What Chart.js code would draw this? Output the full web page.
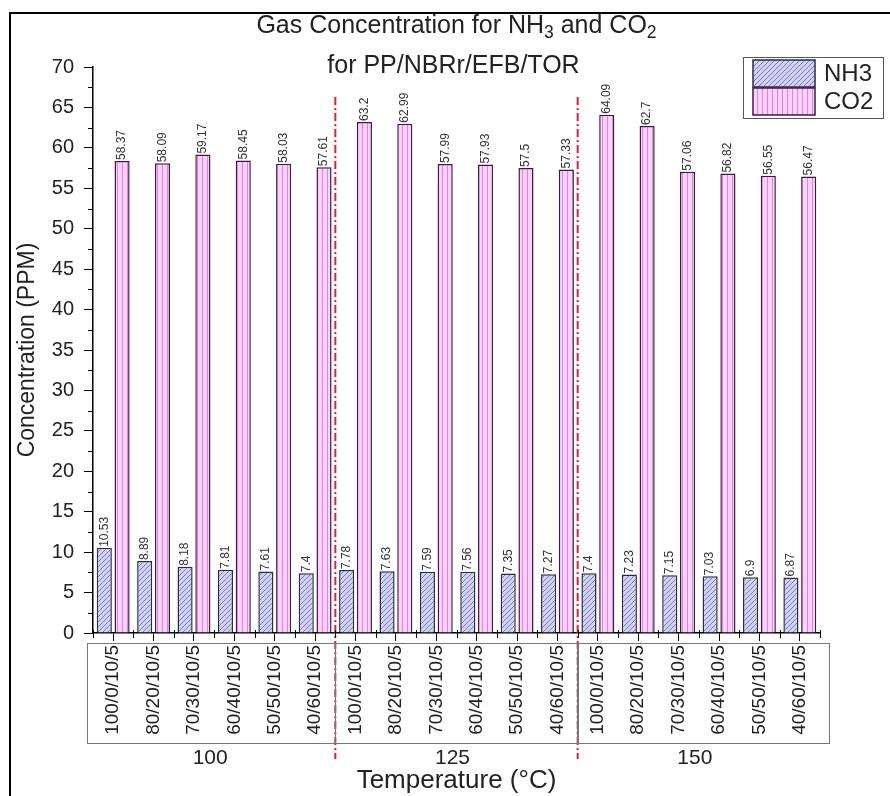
<!DOCTYPE html>
<html>
<head>
<meta charset="utf-8">
<script src="https://cdn.jsdelivr.net/npm/chart.js@4.4.1/dist/chart.umd.min.js"></script>
<style>
  html, body { margin: 0; padding: 0; background: #fff; }
  canvas { display: block; }
</style>
</head>
<body>
<canvas id="myChart" width="890" height="796"></canvas>
<script>
// blend ratios (PP/NBRr/EFB/TOR) for each temperature group
const blends = ['100/0/10/5', '80/20/10/5', '70/30/10/5', '60/40/10/5', '50/50/10/5', '40/60/10/5'];
const temperatures = ['100', '125', '150'];
const categories = [].concat(blends, blends, blends);

const nh3 = [10.53, 8.89, 8.18, 7.81, 7.61, 7.4, 7.78, 7.63, 7.59, 7.56, 7.35, 7.27, 7.4, 7.23, 7.15, 7.03, 6.9, 6.87];
const co2 = [58.37, 58.09, 59.17, 58.45, 58.03, 57.61, 63.2, 62.99, 57.99, 57.93, 57.5, 57.33, 64.09, 62.7, 57.06, 56.82, 56.55, 56.47];

const yTicks = [0, 70, 5];

const FONT = 'Liberation Sans, Arial, sans-serif';

// hatch fills
function makePattern(base, line, kind) {
    const c = document.createElement('canvas');
    const s = 5;
    c.width = s; c.height = s;
    const g = c.getContext('2d');
    g.fillStyle = base;
    g.fillRect(0, 0, s, s);
    g.strokeStyle = line;
    g.lineWidth = 1;
    g.beginPath();
    if (kind === 'diag') {
        g.moveTo(-1, s + 1); g.lineTo(s + 1, -1);
        g.moveTo(-1, 1); g.lineTo(1, -1);
        g.moveTo(s - 1, s + 1); g.lineTo(s + 1, s - 1);
    } else {
        g.moveTo(2.5, 0); g.lineTo(2.5, s);
    }
    g.stroke();
    return g.createPattern(c, 'repeat');
}
const nh3Fill = makePattern('#d2d2f8', '#7a7ac2', 'diag');
const co2Fill = makePattern('#fbd0fb', '#d888d8', 'vert');

// rich text with subscripts
function drawRich(ctx, parts, cx, cy, size) {
    let w = 0;
    parts.forEach(p => {
        ctx.font = (p.sub ? size * 0.7 : size) + 'px ' + FONT;
        w += ctx.measureText(p.t).width;
    });
    let x = cx - w / 2;
    parts.forEach(p => {
        ctx.font = (p.sub ? size * 0.7 : size) + 'px ' + FONT;
        ctx.fillText(p.t, x, p.sub ? cy + size * 0.3 : cy);
        x += ctx.measureText(p.t).width;
    });
}

const overlay = {
    id: 'overlay',
    beforeDraw(chart) {
        const ctx = chart.ctx;
        ctx.save();
        ctx.fillStyle = '#fff';
        ctx.fillRect(0, 0, chart.width, chart.height);
        ctx.strokeStyle = '#000';
        ctx.lineWidth = 2;
        ctx.beginPath();
        ctx.moveTo(10, chart.height);
        ctx.lineTo(10, 13);
        ctx.lineTo(chart.width, 13);
        ctx.stroke();
        ctx.restore();
    },
    afterDatasetsDraw(chart) {
        const ctx = chart.ctx;
        const x = chart.scales.x, y = chart.scales.y;
        ctx.save();
        // value labels above bars
        ctx.fillStyle = '#333';
        ctx.font = '12px ' + FONT;
        ctx.textAlign = 'left';
        ctx.textBaseline = 'middle';
        chart.data.datasets.forEach((ds, i) => {
            chart.getDatasetMeta(i).data.forEach((bar, j) => {
                ctx.save();
                ctx.translate(bar.x, bar.y - 1);
                ctx.rotate(-Math.PI / 2);
                ctx.fillText(String(ds.data[j]), 0, 0);
                ctx.restore();
            });
        });
        // red dash-dot separators between temperature groups
        ctx.strokeStyle = '#e0202a';
        ctx.lineWidth = 2;
        ctx.setLineDash([8, 3, 2, 3]);
        for (let g = 1; g < temperatures.length; g++) {
            const bx = (x.getPixelForValue(g * blends.length - 1) + x.getPixelForValue(g * blends.length)) / 2;
            ctx.beginPath();
            ctx.moveTo(bx, y.getPixelForValue(66.3));
            ctx.lineTo(bx, chart.chartArea.bottom + 126);
            ctx.stroke();
        }
        ctx.restore();
    },
    afterDraw(chart) {
        const ctx = chart.ctx;
        const x = chart.scales.x, y = chart.scales.y;
        const area = chart.chartArea;
        ctx.save();
        // minor ticks
        ctx.strokeStyle = '#000';
        ctx.lineWidth = 1;
        ctx.beginPath();
        for (let v = yTicks[2] / 2; v < yTicks[1]; v += yTicks[2]) {
            const py = Math.round(y.getPixelForValue(v)) + 0.5;
            ctx.moveTo(area.left - 5, py); ctx.lineTo(area.left, py);
        }
        for (let i = 0; i <= categories.length; i++) {
            const px = Math.round(x.left + i * (x.width / categories.length)) + 0.5;
            ctx.moveTo(px, area.bottom - 3); ctx.lineTo(px, area.bottom + 5);
        }
        ctx.stroke();

        // grouping boxes under the tick labels
        ctx.strokeStyle = '#777';
        ctx.lineWidth = 1;
        const step = x.width / categories.length;
        temperatures.forEach((t, g) => {
            let l = x.left + g * blends.length * step;
            let r = x.left + (g + 1) * blends.length * step;
            if (g === 0) l -= 6;
            if (g === temperatures.length - 1) r += 9;
            ctx.strokeRect(Math.round(l) + 0.5, area.bottom + 10.5, Math.round(r - l), 100);
        });

        // temperature labels
        ctx.fillStyle = '#222';
        ctx.font = '21px ' + FONT;
        ctx.textAlign = 'center';
        ctx.textBaseline = 'middle';
        temperatures.forEach((t, g) => {
            const cx = (x.getPixelForValue(g * blends.length) + x.getPixelForValue((g + 1) * blends.length - 1)) / 2;
            ctx.fillText(t, cx - 4, area.bottom + 125);
        });

        // title
        ctx.textAlign = 'left';
        ctx.fillStyle = '#222';
        const cx = (area.left + area.right) / 2;
        drawRich(ctx, [{t: 'Gas Concentration for NH'}, {t: '3', sub: true}, {t: ' and CO'}, {t: '2', sub: true}], cx, 26, 25);
        drawRich(ctx, [{t: 'for PP/NBRr/EFB/TOR'}], cx - 3, 66, 25);

        // legend
        const lx = area.right - 77, ly = 57;
        ctx.strokeStyle = '#555';
        ctx.lineWidth = 1;
        ctx.strokeRect(lx + 0.5, ly + 0.5, 140, 61);
        chart.data.datasets.forEach((ds, i) => {
            const sy = ly + 3 + i * 28;
            ctx.fillStyle = ds.backgroundColor;
            ctx.fillRect(lx + 10, sy, 62, 27);
            ctx.strokeStyle = ds.borderColor;
            ctx.lineWidth = 1.5;
            ctx.strokeRect(lx + 10, sy, 62, 27);
            ctx.fillStyle = '#222';
            ctx.font = '24px ' + FONT;
            ctx.textBaseline = 'middle';
            ctx.fillText(ds.label, lx + 81, sy + 14);
        });
        ctx.restore();
    }
};

const config = {
    type: 'bar',
    data: {
        labels: categories,
        datasets: [{
            label: 'NH3',
            data: nh3,
            backgroundColor: nh3Fill,
            borderColor: '#2c2c3c',
            borderWidth: 1.5,
            categoryPercentage: 0.88,
            barPercentage: 0.85
        }, {
            label: 'CO2',
            data: co2,
            backgroundColor: co2Fill,
            borderColor: '#3c1c3c',
            borderWidth: 1.5,
            categoryPercentage: 0.88,
            barPercentage: 0.85
        }]
    },
    options: {
        responsive: false,
        devicePixelRatio: 1,
        animation: false,
        layout: { padding: { top: 67, right: 70, bottom: 0, left: 0 } },
        plugins: {
            legend: { display: false },
            tooltip: { enabled: false }
        },
        scales: {
            x: {
                grid: { display: true, drawOnChartArea: false, offset: false, color: '#000', tickLength: 8 },
                border: { display: true, color: '#000', width: 1.5 },
                ticks: {
                    autoSkip: false,
                    minRotation: 90,
                    maxRotation: 90,
                    padding: 4,
                    color: '#222',
                    font: { family: FONT, size: 19 }
                },
                title: {
                    display: true,
                    text: 'Temperature (°C)',
                    color: '#222',
                    font: { family: FONT, size: 26 },
                    padding: { top: 0, bottom: 0 }
                },
                afterFit(scale) { scale.height = 163; }
            },
            y: {
                min: yTicks[0],
                max: yTicks[1],
                grid: { display: true, drawOnChartArea: false, color: '#000', tickLength: 9 },
                border: { display: true, color: '#000', width: 1.5 },
                ticks: {
                    stepSize: yTicks[2],
                    padding: 10,
                    color: '#222',
                    font: { family: FONT, size: 20 }
                },
                title: {
                    display: true,
                    text: 'Concentration (PPM)',
                    color: '#222',
                    font: { family: FONT, size: 23 },
                    padding: { top: 14, bottom: 0 }
                },
                afterFit(scale) { scale.width = 93; }
            }
        }
    },
    plugins: [overlay]
};

// Render the chart
const ctx = document.getElementById('myChart').getContext('2d');
const myChart = new Chart(ctx, config);
</script>
</body>
</html>
